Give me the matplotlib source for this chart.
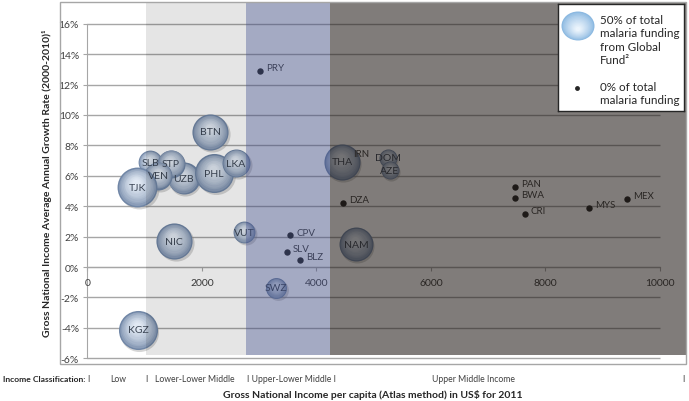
import numpy as np
import matplotlib.pyplot as plt
from matplotlib.patches import Rectangle, Ellipse
from matplotlib.transforms import offset_copy

plt.rcParams['font.family'] = ['Lato', 'DejaVu Sans']

# countries with Global Fund share > 0 (bubbles)
bub_codes = ['SLB', 'UZB', 'STP', 'VEN', 'TJK', 'KGZ', 'BTN', 'PHL', 'LKA', 'NIC',
             'VUT', 'SWZ', 'THA', 'DOM', 'AZE', 'NAM']
bub_gni = [1095, 1680, 1460, 1240, 868, 885, 2148, 2216, 2597, 1514,
           2736, 3295, 4447, 5250, 5285, 4691]
bub_growth = [6.9, 5.85, 6.8, 6.0, 5.26, -4.14, 8.88, 6.18, 6.84, 1.71,
              2.30, -1.38, 6.91, 7.17, 6.38, 1.51]
bub_share = [26, 47, 36, 36, 73, 70, 60, 70, 36, 60,
             22, 20, 60, 15, 15, 53]

# countries with 0% of malaria funding from Global Fund (dots)
dot_codes = ['IRN', 'PRY', 'CPV', 'SLV', 'BLZ', 'DZA', 'PAN', 'BWA', 'CRI', 'MYS', 'MEX']
dot_gni = [4535, 3015, 3540, 3487, 3714, 4465, 7468, 7468, 7643, 8760, 9424]
dot_growth = [7.24, 12.9, 2.1, 0.99, 0.46, 4.21, 5.26, 4.54, 3.49, 3.88, 4.47]

# income classification bands (GNI per capita)
band_edges = [1025, 2770, 4235, 10454]
band_colors = [('#000000', 0.10), ('#37437a', 0.45), ('#18110d', 0.55)]

yticks = np.arange(-6, 17, 2)
xticks = np.arange(0, 10001, 2000)

W, H = 689, 402
fig = plt.figure(figsize=(W / 100, H / 100), dpi=100)
ax = fig.add_axes([60 / W, 1 - 365 / H, 626 / W, 362 / H])
ax.set_xlim(-477, 10454)
ax.set_ylim(-6.38, 17.43)

for s in ['top', 'right']:
    ax.spines[s].set_visible(False)
ax.spines['left'].set_position(('data', 0))
ax.spines['left'].set_bounds(-6, 16)
ax.spines['bottom'].set_position(('data', 0))
ax.spines['bottom'].set_bounds(0, 10000)
for s in ['left', 'bottom']:
    ax.spines[s].set_color('#a6a6a6')
    ax.spines[s].set_zorder(1)

ax.set_yticks(yticks)
ax.set_yticklabels([f'{v}%' for v in yticks])
ax.set_xticks(xticks)
ax.set_xticklabels([str(v) for v in xticks])
ax.tick_params(axis='both', length=3, color='#a6a6a6', labelcolor='#404040', labelsize=7.5)
ax.tick_params(axis='x', pad=5)
ax.tick_params(axis='y', pad=3)

ax.hlines(yticks, 0, 10000, color='#a6a6a6', lw=1, zorder=0.5)

# dots
ax.plot(dot_gni, dot_growth, 'o', ms=4.6, color='#262626', mec='none', zorder=2)
for c, x, y in zip(dot_codes, dot_gni, dot_growth):
    ax.annotate(c, (x, y), xytext=(4.3, 2.2), textcoords='offset points',
                fontsize=7, color='#404040', ha='left', va='center', zorder=6)

# bubbles with a simple sphere shading
edge = np.array([112, 134, 166]) / 255
light = np.array([225, 233, 243]) / 255
n_layers = 12
for c, x, y, v in zip(bub_codes, bub_gni, bub_growth, bub_share):
    r = 16.5 * np.sqrt(v / 50)
    sh = offset_copy(ax.transData, fig=fig, x=1.5, y=-2, units='dots')
    ax.plot(x, y, 'o', ms=2 * 0.72 * r, color='#8a8a8a', alpha=0.35, mec='none',
            transform=sh, zorder=2.5)
    for i in range(n_layers):
        t = i / (n_layers - 1)
        rr = r * (1 - 0.8 * t)
        tr = offset_copy(ax.transData, fig=fig, x=-0.05 * r * t, y=0.22 * r * t, units='dots')
        col = edge + (light - edge) * t ** 0.6
        ax.plot(x, y, 'o', ms=2 * 0.72 * rr, color=col, mec='none', transform=tr, zorder=3)
    ax.text(x, y, c, fontsize=7.5, color='#3c4655', ha='center', va='center', zorder=6)

# shaded income bands drawn on top
for x0, x1, (col, a) in zip(band_edges[:-1], band_edges[1:], band_colors):
    ax.axvspan(x0, x1, ymin=(365 - 356) / 362, ymax=1, color=col, alpha=a, lw=0, zorder=10)

ax.add_patch(Rectangle((0, 0), 1, 1, transform=ax.transAxes, fill=False,
                       ec='#a6a6a6', lw=1, zorder=20, clip_on=False))

# legend box
lg = fig.add_axes([558 / W, 1 - 112 / H, 126 / W, 107 / H], zorder=30)
lg.set_xlim(0, 126)
lg.set_ylim(107, 0)
lg.set_xticks([])
lg.set_yticks([])
lg.set_facecolor('white')
for s in lg.spines.values():
    s.set_color('#262626')
    s.set_linewidth(1)
lc_edge = np.array([140, 185, 225]) / 255
lc_in = np.array([235, 244, 252]) / 255
for i in range(12):
    t = i / 11
    f = 1 - 0.85 * t
    lg.add_patch(Ellipse((20, 22 + 3 * t), 33 * f, 29 * f,
                         color=lc_edge + (lc_in - lc_edge) * t ** 0.8, lw=0))
lg.plot([19], [84], 'o', ms=3.5, color='#262626', mec='none')
lg.text(42, 10, '50% of total\nmalaria funding\nfrom Global\nFund²', fontsize=8.4,
        color='#262626', va='top', ha='left', linespacing=1.26)
lg.text(42, 77, '0% of total\nmalaria funding', fontsize=8.4,
        color='#262626', va='top', ha='left', linespacing=1.26)

# axis titles
fig.text(47 / W, 1 - 183 / H, 'Gross National Income Average Annual Growth Rate (2000-2010)¹',
         rotation=90, fontsize=7.5, fontweight='bold', color='#262626', ha='center', va='center')
fig.text(373 / W, 1 - 395 / H, 'Gross National Income per capita (Atlas method) in US$ for 2011',
         fontsize=7.5, fontweight='bold', color='#262626', ha='center', va='center')

# income classification row
row_y = 1 - 380 / H
fig.text(3 / W, row_y, 'Income Classification:', fontsize=6.1, fontweight='bold',
         color='#262626', ha='left', va='center')
row_items = [(87, 'I'), (110, 'Low'), (145, 'I'), (155, 'Lower-Lower Middle'),
             (247, 'I Upper-Lower Middle I'), (432, 'Upper Middle Income'), (682, 'I')]
for px, s in row_items:
    fig.text(px / W, row_y, s, fontsize=6.2, color='#404040', ha='left', va='center')

fig.savefig('out.png', dpi=100)
